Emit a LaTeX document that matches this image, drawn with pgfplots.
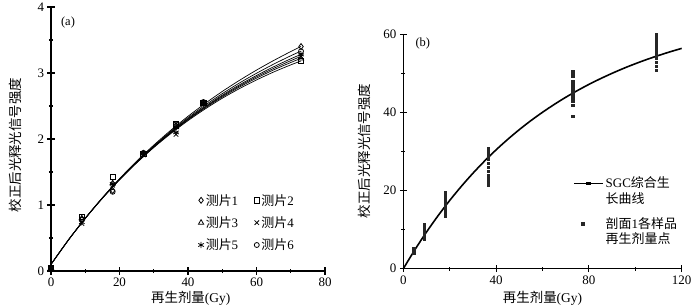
\documentclass[border=0pt]{standalone}
\usepackage{fontspec}
\setmainfont{Liberation Serif}
\newfontfamily\cjk{Noto Sans CJK SC}
\usepackage{pgfplots}
\usepackage{pgfplotstable}
\pgfplotsset{compat=1.18}

\pgfplotstableread{
x y1 y2 y3 y4 y5 y6
0 0.100 0.100 0.100 0.100 0.100 0.100
5 0.464 0.463 0.464 0.464 0.464 0.464
10 0.800 0.796 0.796 0.797 0.798 0.799
15 1.110 1.101 1.103 1.104 1.105 1.107
20 1.398 1.381 1.384 1.386 1.388 1.392
25 1.663 1.637 1.642 1.645 1.649 1.655
30 1.907 1.870 1.876 1.882 1.887 1.895
35 2.134 2.083 2.093 2.100 2.106 2.118
40 2.344 2.278 2.290 2.299 2.308 2.323
45 2.539 2.455 2.471 2.482 2.493 2.512
50 2.720 2.617 2.635 2.650 2.664 2.687
55 2.888 2.763 2.786 2.803 2.820 2.848
60 3.044 2.895 2.922 2.942 2.962 2.996
65 3.189 3.015 3.047 3.070 3.094 3.134
70 3.325 3.123 3.159 3.187 3.215 3.261
73 3.402 3.182 3.222 3.252 3.282 3.332
}\curvesA

\pgfplotstableread{
x m1 m2 m3 m4 m5 m6
0 0.05 0.05 0.05 0.05 0.05 0.05
9 0.78 0.82 0.80 0.72 0.74 0.78
18 1.22 1.42 1.33 1.30 1.32 1.20
27 1.78 1.77 1.78 1.76 1.78 1.79
36.5 2.20 2.22 2.18 2.07 2.10 2.22
44.5 2.55 2.55 2.54 2.53 2.55 2.56
73 3.40 3.18 3.22 3.25 3.28 3.33
}\marksA

\pgfplotstableread{
x y
0 0
5 4.87
10 9.40
15 13.60
20 17.50
25 21.11
30 24.47
35 27.59
40 30.48
45 33.16
50 35.66
55 37.97
60 40.11
65 42.10
70 43.95
75 45.66
80 47.26
85 48.73
90 50.10
95 51.38
100 52.56
105 53.66
110 54.67
115 55.62
120 56.49
}\curveB

\pgfplotstableread{
x y
4.5 4.0
4.5 4.3
4.5 4.6
4.5 5.0
4.5 5.2
9 7.5
9 8.0
9 8.5
9 9.0
9 9.5
9 10.0
9 10.5
9 11.0
9 11.5
18 13.5
18 14.0
18 14.5
18 15.0
18 15.5
18 16.0
18 16.5
18 17.0
18 17.5
18 18.0
18 18.5
18 19.5
36.5 21.5
36.5 22.0
36.5 22.5
36.5 23.0
36.5 23.5
36.5 24.0
36.5 25.0
36.5 26.0
36.5 27.0
36.5 28.0
36.5 28.5
36.5 29.0
36.5 29.5
36.5 30.0
36.5 30.5
36.5 31.0
73 39.0
73 42.0
73 43.0
73 43.5
73 44.0
73 44.5
73 45.0
73 45.5
73 46.0
73 46.5
73 47.0
73 47.5
73 48.0
73 49.5
73 50.5
109 51.0
109 52.0
109 53.0
109 54.0
109 54.5
109 55.0
109 55.5
109 56.0
109 56.5
109 57.0
109 57.5
109 58.0
109 58.5
109 59.0
109 59.5
109 60.0
}\scatterB

\pgfplotsset{
  common/.style={
    scale only axis,
    axis lines=left,
    axis line style={-, line width=1.1pt},
    tick align=center,
    major tick length=7bp,
    minor tick length=4bp,
    every tick/.style={black, line width=1.1pt},
    tick label style={font=\fontsize{13}{14}\selectfont},
    /pgf/number format/assume math mode=true,
    label style={font=\fontsize{13.5}{15}\selectfont},
    minor x tick num=1,
    minor y tick num=1,
    clip=false,
  }
}

\begin{document}
\begin{tikzpicture}
\useasboundingbox (0,0) rectangle (700bp,308bp);
\begin{axis}[common,
  at={(51bp,37bp)}, anchor=south west,
  width=274bp, height=264bp,
  xmin=0, xmax=80, ymin=0, ymax=4,
  xtick={0,20,40,60,80}, ytick={0,1,2,3,4},
  xlabel={{\cjk 再生剂量}(Gy)},
  ylabel={\cjk 校正后光释光信号强度},
  xlabel style={at={(axis description cs:0.51,-0.102)}, anchor=center},
  ylabel style={at={(axis description cs:-0.131,0.477)}, anchor=center},
  legend columns=2,
  legend cell align=left,
  legend style={at={(0.526,0.307)}, anchor=north west, draw=none, fill=none,
    font=\fontsize{13}{14}\selectfont, row sep=6bp,
    /tikz/every even column/.append style={column sep=14bp}},
]
\addplot[black, line width=0.7pt, smooth, forget plot] table[x=x,y=y1]{\curvesA};
\addplot[black, line width=0.7pt, smooth, forget plot] table[x=x,y=y2]{\curvesA};
\addplot[black, line width=0.7pt, smooth, forget plot] table[x=x,y=y3]{\curvesA};
\addplot[black, line width=0.7pt, smooth, forget plot] table[x=x,y=y4]{\curvesA};
\addplot[black, line width=0.7pt, smooth, forget plot] table[x=x,y=y5]{\curvesA};
\addplot[black, line width=0.7pt, smooth, forget plot] table[x=x,y=y6]{\curvesA};
\addplot[only marks, black, mark=diamond, mark size=3pt, mark options={line width=0.8pt}] table[x=x,y=m1]{\marksA};
\addlegendentry{{\cjk 测片}1}
\addplot[only marks, black, mark=square, mark size=2.6pt, mark options={line width=0.8pt}] table[x=x,y=m2]{\marksA};
\addlegendentry{{\cjk 测片}2}
\addplot[only marks, black, mark=triangle, mark size=3pt, mark options={line width=0.8pt}] table[x=x,y=m3]{\marksA};
\addlegendentry{{\cjk 测片}3}
\addplot[only marks, black, mark=x, mark size=3.2pt, mark options={line width=0.8pt}] table[x=x,y=m4]{\marksA};
\addlegendentry{{\cjk 测片}4}
\addplot[only marks, black, mark=asterisk, mark size=3.2pt, mark options={line width=0.8pt}] table[x=x,y=m5]{\marksA};
\addlegendentry{{\cjk 测片}5}
\addplot[only marks, black, mark=o, mark size=2.5pt, mark options={line width=0.8pt}] table[x=x,y=m6]{\marksA};
\addlegendentry{{\cjk 测片}6}
\node[font=\fontsize{12.5}{13}\selectfont] at (rel axis cs:0.062,0.943) {(a)};
\end{axis}

\begin{axis}[common,
  at={(403.3bp,39.3bp)}, anchor=south west,
  width=278.4bp, height=234bp,
  xmin=0, xmax=120, ymin=0, ymax=60,
  xtick={0,40,80,120}, ytick={0,20,40,60},
  xlabel={{\cjk 再生剂量}(Gy)},
  ylabel={\cjk 校正后光释光信号强度},
  xlabel style={at={(axis description cs:0.5,-0.125)}, anchor=center},
  ylabel style={at={(axis description cs:-0.138,0.503)}, anchor=center},
  legend cell align=left,
  legend style={at={(0.60,0.41)}, anchor=north west, draw=none, fill=none,
    font=\fontsize{13}{15}\selectfont, row sep=24bp},
]
\addlegendimage{black, line width=1.3pt, mark=square*, mark size=0.9pt, legend image post style={xscale=1.7}}
\addlegendentry{\begin{tabular}[t]{@{}l@{}}SGC{\cjk 综合生}\\{\cjk 长曲线}\end{tabular}}
\addplot[black, line width=1.6pt, smooth, forget plot] table[x=x,y=y]{\curveB};
\addplot[only marks, black!85, mark=square*, mark size=1.1pt] table[x=x,y=y]{\scatterB};
\addlegendentry{\begin{tabular}[t]{@{}l@{}}{\cjk 剖面}1{\cjk 各样品}\\{\cjk 再生剂量点}\end{tabular}}
\node[font=\fontsize{12.5}{13}\selectfont] at (rel axis cs:0.07,0.964) {(b)};
\end{axis}
\end{tikzpicture}
\end{document}
